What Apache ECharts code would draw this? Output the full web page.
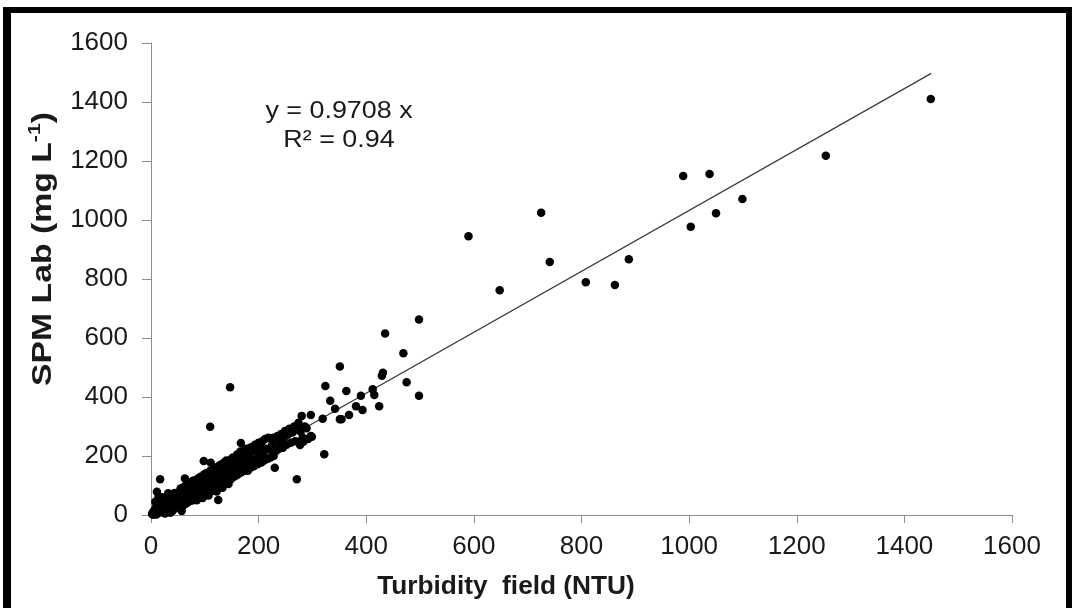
<!DOCTYPE html>
<html>
<head>
<meta charset="utf-8">
<script src="https://cdn.jsdelivr.net/npm/echarts@6/dist/echarts.min.js"></script>
<style>
html,body{margin:0;padding:0;background:#fff;}
#chart{width:1072px;height:608px;}
</style>
</head>
<body>
<div id="chart"></div>
<script>
// Tick values
const xTicks = [0, 200, 400, 600, 800, 1000, 1200, 1400, 1600];
const yTicks = [0, 200, 400, 600, 800, 1000, 1200, 1400, 1600];

// Samples: [Turbidity field (NTU), SPM Lab (mg/L)]
const lowSamples = [
  [2,3],[3,8],[4,1],[5,12],[6,4],[7,18],[8,6],[9,25],[10,10],[10,2],[11,16],[12,30],[13,7],[14,20],[15,40],[15,12],
  [16,26],[17,121],[18,9],[18,34],[19,18],[20,45],[21,24],[22,13],[23,32],[24,52],[25,20],[26,38],[27,10],[28,28],
  [29,60],[30,42],[30,16],[32,34],[32,74],[33,22],[34,48],[35,30],[36,56],[37,18],[38,40],[39,64],[40,28],[41,46],
  [42,34],[43,55],[44,22],[45,40],[46,68],[47,32],[48,50],[49,44],[50,58],[50,30],[11,79],[14,62],[8,45],[57,85],
  [57,14],[63,124],[20,60],[26,5],[36,8],[44,75],[40,14]
];
const midSamples = [
  [52,30],[53,78],[54,45],[55,90],[56,60],[58,28],[59,72],[60,48],[61,95],[62,36],[63,80],[64,55],[65,100],[66,40],
  [67,85],[68,62],[69,105],[70,45],[71,92],[72,70],[73,110],[74,48],[75,88],[76,62],[77,115],[78,50],[79,98],[80,72],
  [81,118],[82,55],[83,102],[84,78],[85,50],[86,112],[87,82],[88,125],[89,60],[90,108],[91,85],[92,130],[93,62],[94,115],
  [95,88],[96,58],[97,128],[98,100],[99,138],[100,68],[101,118],[102,92],[103,142],[104,72],[105,125],[106,98],[107,66],
  [108,135],[109,108],[110,150],[111,80],[112,130],[113,102],[114,145],[115,85],[116,138],[117,110],[118,158],[119,90],
  [120,142],[121,115],[122,80],[123,150],[124,120],[125,165],[125,51],[126,95],[127,145],[128,118],[129,170],[130,100],
  [131,155],[132,125],[133,92],[134,162],[135,132],[136,178],[137,108],[138,158],[139,128],[140,185],[141,112],[142,168],
  [143,140],[144,105],[145,175],[146,145],[147,186],[147,433],[148,120],[149,180],[150,150],[98,183],[111,177],[110,299],
  [150,190]
];
const bandSamples = [
  [152,195],[154,130],[155,185],[157,160],[159,135],[160,205],[161,168],[163,140],[165,190],[166,215],[167,244],[168,145],
  [169,195],[171,165],[172,218],[174,150],[175,200],[177,175],[178,225],[180,150],[181,195],[183,210],[185,160],[186,230],
  [188,185],[189,215],[191,165],[193,238],[195,190],[196,222],[198,172],[200,245],[201,200],[203,228],[205,178],[207,250],
  [209,210],[210,185],[212,258],[214,225],[216,190],[218,262],[220,222],[222,195],[224,260],[225,238],[227,262],[228,200],
  [230,160],[231,250],[233,218],[235,268],[237,260],[238,225],[240,248],[242,275],[243,271],[245,228],[247,262],[249,285],
  [252,238],[254,272],[257,292],[260,245],[263,280],[266,300],[268,250],[271,121],[272,298],[274,305],[274,248],[274,313],
  [277,237],[278,282],[280,336],[282,262],[283,248],[286,300],[289,294],[292,258],[297,268],[297,339],[299,265]
];
const upperSamples = [
  [319,326],[322,206],[324,437],[333,387],[342,360],[351,325],[354,325],[351,503],[363,420],[368,339],[381,369],[390,404],
  [393,356],[412,426],[415,407],[424,369],[429,472],[431,482],[435,615],[469,548],[475,450],[498,663],[498,404],
  [590,945],[648,762],[725,1025],[741,858],[808,789],[862,780],[888,867],[989,1149],[1003,977],[1038,1156],[1050,1023],
  [1099,1071],[1254,1218],[1449,1410]
];
// Trend line as drawn in the picture
const trendX = [0, 1450];
const trendY = [0, 1497];

const samples = lowSamples.concat(midSamples, bandSamples, upperSamples);
const trend = trendX.map((x, i) => [x, trendY[i]]);

const chart = echarts.init(document.getElementById('chart'));
const axisGrey = '#8c8c8c';
const labelFont = 'Liberation Sans, Arial, sans-serif';

chart.setOption({
  backgroundColor: '#ffffff',
  animation: false,
  grid: { left: 151, right: 60, top: 43, bottom: 93, containLabel: false },
  xAxis: {
    type: 'value', min: xTicks[0], max: xTicks[xTicks.length - 1], interval: xTicks[1] - xTicks[0],
    axisLine: { show: true, lineStyle: { color: axisGrey, width: 1 } },
    axisTick: { show: true, length: 8, lineStyle: { color: axisGrey } },
    splitLine: { show: false },
    axisLabel: { fontFamily: labelFont, fontSize: 26, color: '#1a1a1a', margin: 19, formatter: v => String(v) }
  },
  yAxis: {
    type: 'value', min: yTicks[0], max: yTicks[yTicks.length - 1], interval: yTicks[1] - yTicks[0],
    axisLine: { show: true, lineStyle: { color: axisGrey, width: 1 } },
    axisTick: { show: true, length: 9, lineStyle: { color: axisGrey } },
    splitLine: { show: false },
    axisLabel: { fontFamily: labelFont, fontSize: 26, color: '#1a1a1a', margin: 23, formatter: v => String(v) }
  },
  series: [
    {
      type: 'line', data: trend, showSymbol: false, symbol: 'none',
      lineStyle: { color: '#3a3a3a', width: 1.2 }, z: 1, silent: true
    },
    {
      type: 'scatter', data: samples, symbol: 'circle', symbolSize: 8.5,
      itemStyle: { color: '#000000', opacity: 1 }, z: 2
    }
  ],
  graphic: [
    { type: 'rect', shape: { x: 3, y: 7, width: 8, height: 601 }, style: { fill: '#000' }, silent: true },
    { type: 'rect', shape: { x: 3, y: 7, width: 1069, height: 6 }, style: { fill: '#000' }, silent: true },
    { type: 'rect', shape: { x: 1066, y: 7, width: 6, height: 601 }, style: { fill: '#000' }, silent: true },
    {
      type: 'text', x: 339, y: 111, scaleX: 1.12,
      style: { text: 'y = 0.9708 x', font: '24px Liberation Sans, Arial, sans-serif', fill: '#1a1a1a', align: 'center', verticalAlign: 'middle' }
    },
    {
      type: 'text', x: 339, y: 140, scaleX: 1.12,
      style: { text: 'R² = 0.94', font: '24px Liberation Sans, Arial, sans-serif', fill: '#1a1a1a', align: 'center', verticalAlign: 'middle' }
    },
    {
      type: 'text', x: 506, y: 587, scaleX: 1.05,
      style: { text: 'Turbidity  field (NTU)', font: 'bold 25px Liberation Sans, Arial, sans-serif', fill: '#1a1a1a', align: 'center', verticalAlign: 'middle' }
    },
    {
      type: 'text', x: 42, y: 249, rotation: Math.PI / 2, scaleX: 1.25,
      style: {
        text: '{a|SPM Lab (mg L}{s|-1}{a|)}',
        align: 'center', verticalAlign: 'middle',
        rich: {
          a: { font: 'bold 27px Liberation Sans, Arial, sans-serif', fill: '#1a1a1a', verticalAlign: 'bottom', lineHeight: 30 },
          s: { font: 'bold 17px Liberation Sans, Arial, sans-serif', fill: '#1a1a1a', verticalAlign: 'top', lineHeight: 30 }
        }
      }
    }
  ]
});
</script>
</body>
</html>
